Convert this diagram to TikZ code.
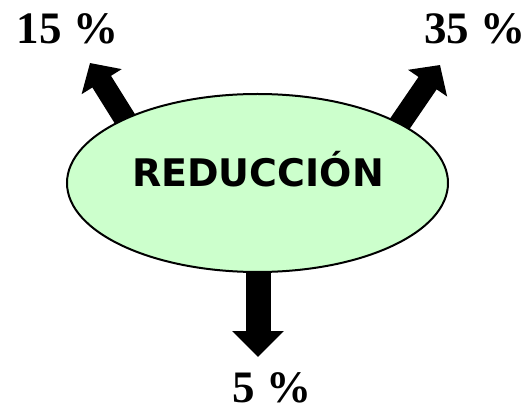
\documentclass[tikz,border=0pt]{standalone}
\usepackage{fontspec}
\setmainfont{Liberation Serif}
\newfontfamily\verdanalike{DejaVu Sans}
\usetikzlibrary{arrows.meta,shapes.geometric}
\definecolor{palegreen}{HTML}{CCFFCC}
\tikzset{
  blob/.style={ellipse, draw=black, line width=2pt, fill=palegreen, minimum width=381pt, minimum height=178pt, inner sep=0pt},
  pct/.style={font=\fontsize{45}{50}\selectfont\bfseries, anchor=base, inner sep=0pt},
  title/.style={font=\verdanalike\fontsize{38}{42}\selectfont\bfseries, anchor=base, inner sep=0pt},
  diagarrow/.style={line width=22pt, -{Triangle[length=22pt,width=46pt]}},
  downarrow/.style={line width=25pt, -{Triangle[length=26pt,width=50pt]}}
}
\begin{document}
\begin{tikzpicture}[x=1pt,y=-1pt]
\useasboundingbox (0,0) rectangle (532,411);
\coordinate (s1) at (142.5,147);
\coordinate (s2) at (381.5,150.5);
\coordinate (s3) at (258,250);
\coordinate (t1) at (90,63);
\coordinate (t2) at (440,65);
\coordinate (t3) at (258,357);
\draw[diagarrow] (s1) -- (t1);
\draw[diagarrow] (s2) -- (t2);
\draw[downarrow] (s3) -- (t3);
\node[blob] (e) at (257.5,183) {};
\node[title] (t) at (258,187) {REDUCCIÓN};
\node[pct] (p1) at (67.5,44) {15 \%};
\node[pct] (p2) at (475,44) {35 \%};
\node[pct] (p3) at (272,402.5) {5 \%};
\end{tikzpicture}
\end{document}
